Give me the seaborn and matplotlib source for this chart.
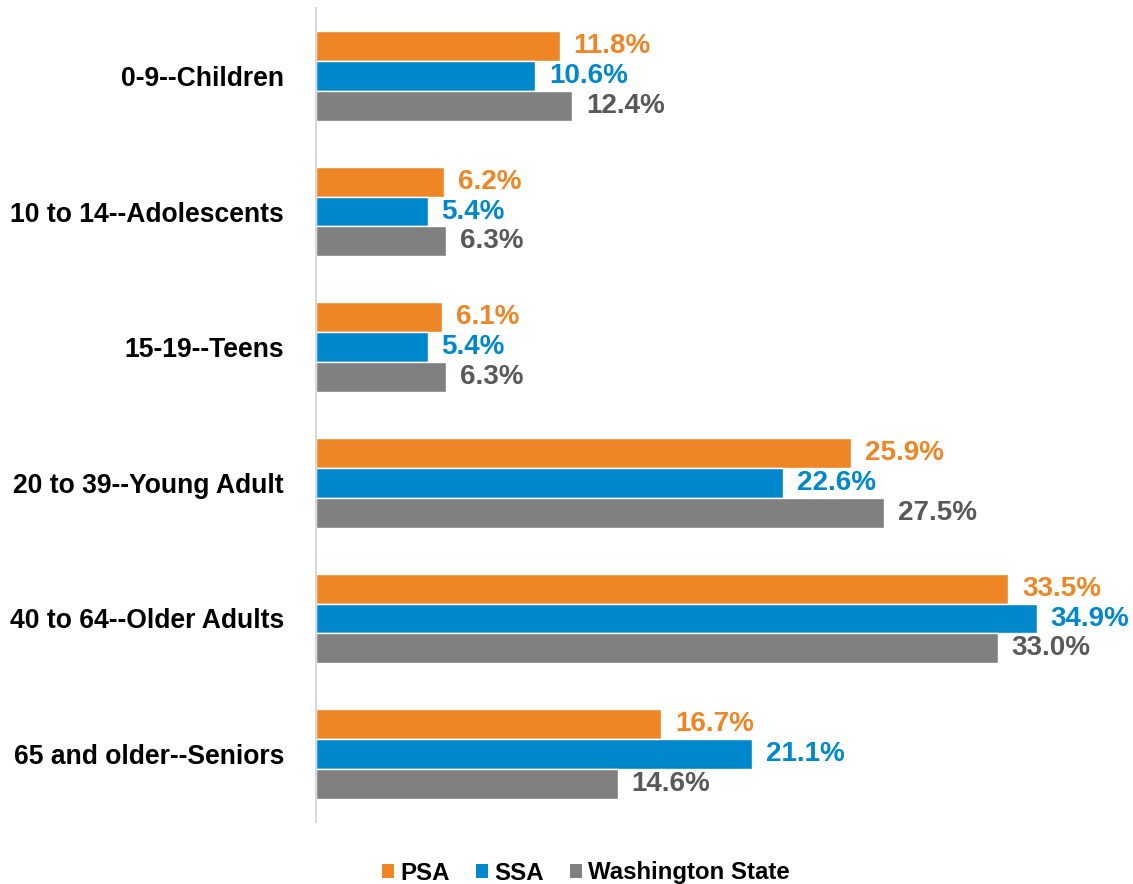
import matplotlib
matplotlib.use("Agg")
import matplotlib.pyplot as plt
import seaborn as sns
import pandas as pd
from matplotlib.patches import Patch

categories = ["0-9--Children", "10 to 14--Adolescents", "15-19--Teens",
              "20 to 39--Young Adult", "40 to 64--Older Adults", "65 and older--Seniors"]
series = ["PSA", "SSA", "Washington State"]
psa = [11.8, 6.2, 6.1, 25.9, 33.5, 16.7]
ssa = [10.6, 5.4, 5.4, 22.6, 34.9, 21.1]
wa = [12.4, 6.3, 6.3, 27.5, 33.0, 14.6]

bar_colors = ["#EE8625", "#0088CC", "#808080"]
label_colors = ["#EE8625", "#0088CC", "#595959"]

df = pd.DataFrame({
    "category": categories * 3,
    "series": [s for s in series for _ in categories],
    "value": psa + ssa + wa,
})

sns.set_style("white")
plt.rcParams["font.family"] = ["Liberation Sans", "DejaVu Sans"]

fig = plt.figure(figsize=(11.33, 8.84), dpi=100)
ax = fig.add_axes([316 / 1133, 1 - 822 / 884, 1 - 316 / 1133, (822 - 8) / 884])

sns.barplot(data=df, x="value", y="category", hue="series", orient="h",
            order=categories, hue_order=series, palette=bar_colors, saturation=1,
            width=0.663, edgecolor="white", linewidth=1, ax=ax, legend=False)

ax.set_xlim(0, 39.55)
ax.set_ylim(len(categories) - 0.5, -0.5)

for container, col in zip(ax.containers, label_colors):
    ax.bar_label(container, labels=[f"{v:.1f}%" for v in container.datavalues],
                 padding=10, color=col, fontsize=20, fontweight="bold")

ax.set_xlabel("")
ax.set_ylabel("")
ax.set_xticks([])
ax.tick_params(axis="y", length=0, pad=23)
for lbl in ax.get_yticklabels():
    lbl.set_fontsize(19.1)
    lbl.set_fontweight("bold")
    lbl.set_color("black")

for side in ["top", "right", "bottom"]:
    ax.spines[side].set_visible(False)
ax.spines["left"].set_color("#D9D9D9")
ax.spines["left"].set_linewidth(1.5)

handles = [Patch(facecolor=c, edgecolor="none") for c in bar_colors]
fig.legend(handles, series, loc="center", bbox_to_anchor=(586 / 1133, 1 - 873 / 884),
           ncol=3, frameon=False, prop={"size": 17.3, "weight": "bold"},
           handlelength=0.5, handleheight=0.5, handletextpad=0.25, columnspacing=1.1,
           labelcolor="black")

fig.savefig("out.png", dpi=100)
